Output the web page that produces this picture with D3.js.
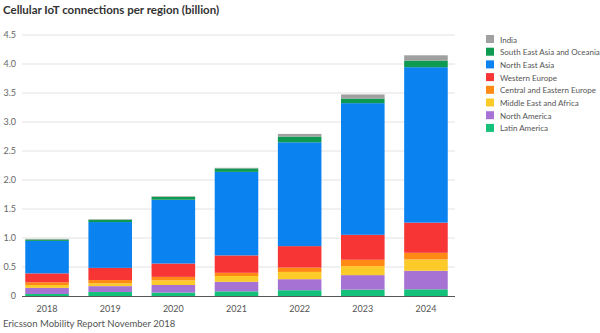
<!DOCTYPE html>
<html>
<head>
<meta charset="utf-8">
<script src="https://cdn.jsdelivr.net/npm/d3@7/dist/d3.min.js"></script>
<style>
  body { margin: 0; background: #fff; }
  svg { display: block; font-family: Lato, "Open Sans", sans-serif; }
</style>
</head>
<body>
<svg width="600" height="333"></svg>
<script>
// data (billion connections)
var years = ["2018", "2019", "2020", "2021", "2022", "2023", "2024"];
var regions = ["Latin America", "North America", "Middle East and Africa", "Central and Eastern Europe",
               "Western Europe", "North East Asia", "South East Asia and Oceania", "India"];
var latinAmerica  = [0.035, 0.07, 0.06, 0.08, 0.10, 0.11, 0.115];
var northAmerica  = [0.105, 0.10, 0.13, 0.165, 0.19, 0.25, 0.32];
var middleEast    = [0.05, 0.05, 0.08, 0.10, 0.125, 0.155, 0.195];
var centralEurope = [0.045, 0.055, 0.06, 0.055, 0.075, 0.11, 0.115];
var westernEurope = [0.155, 0.21, 0.23, 0.30, 0.37, 0.43, 0.52];
var northEastAsia = [0.56, 0.79, 1.10, 1.44, 1.79, 2.27, 2.68];
var southEastAsia = [0.025, 0.04, 0.05, 0.06, 0.10, 0.08, 0.115];
var india         = [0.01, 0.01, 0.01, 0.01, 0.045, 0.07, 0.09];
var yTicks = [0, 0.5, 1, 1.5, 2, 2.5, 3, 3.5, 4, 4.5];
var colors = ["#14c17a", "#a673d4", "#fccb2a", "#ff8a14", "#f83535", "#0a82ef", "#0e9a50", "#a0a0a0"];

var series = [latinAmerica, northAmerica, middleEast, centralEurope, westernEurope, northEastAsia, southEastAsia, india];
var rows = years.map(function(yr, i) {
  var r = { year: yr };
  regions.forEach(function(k, j) { r[k] = series[j][i]; });
  return r;
});
var stacked = d3.stack().keys(regions)(rows);

var svg = d3.select("svg");
var plotLeft = 22, plotRight = 455, plotTop = 35, plotBottom = 296;

var x = d3.scaleBand().domain(years).range([plotLeft + 2, plotRight - 6]).paddingInner(0.31).paddingOuter(0.02);
var y = d3.scaleLinear().domain([0, 4.5]).range([plotBottom, plotTop]);

// title
svg.append("text")
  .attr("x", 3).attr("y", 14)
  .style("font-size", "11.5px").style("font-weight", "bold").style("fill", "#333")
  .text("Cellular IoT connections per region (billion)");

// grid
svg.append("g").selectAll("line").data(yTicks.filter(function(d) { return d > 0; }))
  .enter().append("line")
    .attr("x1", plotLeft).attr("x2", plotRight)
    .attr("y1", function(d) { return y(d); }).attr("y2", function(d) { return y(d); })
    .style("stroke", "#e2e2e2").style("stroke-width", 1);

svg.append("g").selectAll("text").data(yTicks)
  .enter().append("text")
    .attr("x", 16).attr("y", function(d) { return y(d) + 3; })
    .attr("text-anchor", "end")
    .style("font-size", "9px").style("fill", "#666")
    .text(function(d) { return d === 0 ? "0" : d3.format(".1f")(d); });

// bars
svg.append("g").selectAll("g").data(stacked)
  .enter().append("g")
    .style("fill", function(d, i) { return colors[i]; })
  .selectAll("rect").data(function(d) { return d; })
  .enter().append("rect")
    .attr("x", function(d) { return x(d.data.year); })
    .attr("width", x.bandwidth())
    .attr("y", function(d) { return y(d[1]); })
    .attr("height", function(d) { return y(d[0]) - y(d[1]); });

// baseline
svg.append("line")
  .attr("x1", plotLeft).attr("x2", plotRight).attr("y1", plotBottom + 0.5).attr("y2", plotBottom + 0.5)
  .style("stroke", "#555").style("stroke-width", 1);

svg.append("g").selectAll("text").data(years)
  .enter().append("text")
    .attr("x", function(d) { return x(d) + x.bandwidth() / 2; })
    .attr("y", 312)
    .attr("text-anchor", "middle")
    .style("font-size", "9px").style("fill", "#555")
    .text(function(d) { return d; });

// legend, top entry is India
var legendOrder = regions.slice().reverse();
var lg = svg.append("g").selectAll("g").data(legendOrder)
  .enter().append("g")
    .attr("transform", function(d, i) { return "translate(486," + (35 + i * 12.7) + ")"; });
lg.append("rect").attr("width", 8).attr("height", 8)
  .style("fill", function(d) { return colors[regions.indexOf(d)]; });
lg.append("text").attr("x", 14).attr("y", 7.5)
  .style("font-size", "8px").style("fill", "#555")
  .text(function(d) { return d; });

// source
svg.append("text")
  .attr("x", 3).attr("y", 327)
  .style("font-size", "9.5px").style("fill", "#555")
  .text("Ericsson Mobility Report November 2018");
</script>
</body>
</html>
